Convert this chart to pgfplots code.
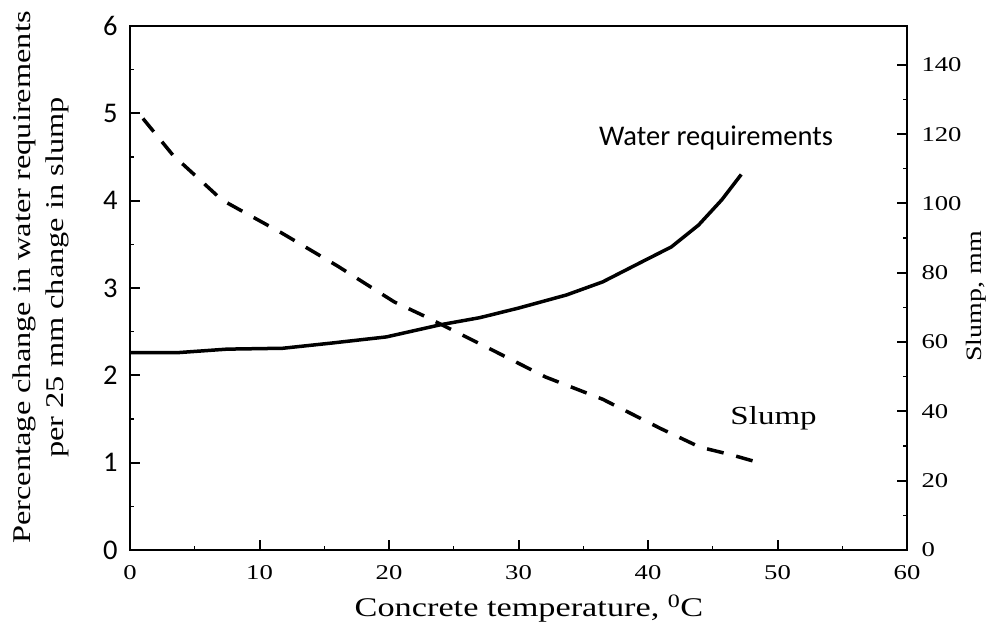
\documentclass[border=0pt]{standalone}
\usepackage{fontspec}
\setmainfont{Liberation Serif}
\newfontfamily\wideserif[FakeStretch=1.27]{Liberation Serif}
\newfontfamily\calibri{Carlito}
\usepackage{pgfplots}
\pgfplotsset{compat=1.18}
\begin{document}
\begin{tikzpicture}
\path[use as bounding box] (-130bp,-87bp) rectangle (866bp,550bp);
\begin{axis}[
  at={(0,0)}, anchor=south west,
  scale only axis, width=777bp, height=524bp,
  xmin=0, xmax=60, ymin=0, ymax=6,
  xtick={0,10,...,60}, minor xtick={5,15,...,55},
  ytick={0,1,...,6}, minor ytick={0.5,1.5,...,5.5},
  xtick pos=left, ytick pos=left,
  tick align=inside,
  major tick length=10bp, minor tick length=4bp,
  every major tick/.style={black, line width=2bp},
  every minor tick/.style={black, line width=1.2bp},
  axis line style={line width=2.5bp, black},
  /pgf/number format/assume math mode=true,
  xticklabel style={font=\wideserif\fontsize{21bp}{25bp}\selectfont, yshift=-12bp},
  yticklabel style={font=\calibri\fontsize{28.5bp}{32bp}\selectfont, xshift=-9bp},
  xlabel={Concrete temperature, \textsuperscript{0}C},
  xlabel style={font=\wideserif\fontsize{27bp}{33bp}\selectfont, at={(axis description cs:0.5135,-0.1126)}, anchor=center},
  ylabel={Percentage change in water requirements\\per 25 mm change in slump},
  ylabel style={align=center, font=\wideserif\fontsize{25.5bp}{33bp}\selectfont, at={(axis description cs:-0.1152,0.52)}, anchor=center},
]
\addplot[black, line width=3.5bp, line join=round] coordinates {
(0,2.26) (3.7,2.26) (7.5,2.30) (11.8,2.31) (15.6,2.37) (19.8,2.44)
(24.0,2.58) (27.0,2.66) (30.0,2.77) (33.7,2.92) (36.5,3.07) (39.8,3.32)
(41.8,3.47) (43.9,3.72) (45.7,4.01) (47.2,4.30)};
\node[font=\calibri\fontsize{28.5bp}{32bp}\selectfont] at (axis cs:45.25,4.72) {Water requirements};
\node[font=\wideserif\fontsize{26bp}{30bp}\selectfont] at (axis cs:49.7,1.51) {Slump};
\end{axis}
\begin{axis}[
  at={(0,0)}, anchor=south west,
  scale only axis, width=777bp, height=524bp,
  xmin=0, xmax=60, ymin=0, ymax=151.2,
  axis y line*=right, axis x line=none,
  ytick={0,20,...,140}, minor ytick={10,30,...,130},
  tick align=inside,
  major tick length=10bp, minor tick length=4bp,
  every major tick/.style={black, line width=2bp},
  every minor tick/.style={black, line width=1.2bp},
  axis line style={line width=2.5bp, black},
  /pgf/number format/assume math mode=true,
  yticklabel style={font=\wideserif\fontsize{21bp}{25bp}\selectfont, anchor=west, xshift=11bp},
  ylabel={Slump, mm},
  ylabel style={font=\wideserif\fontsize{22bp}{26bp}\selectfont, at={(axis description cs:1.089,0.484)}, anchor=center},
]
\addplot[black, line width=3.5bp, dash pattern=on 17bp off 13bp] coordinates {
(1.0,124.5) (3.3,114) (7.1,101) (11.7,91.5) (16.0,82) (20.4,71.6)
(22.9,67.2) (27.5,58.6) (32.1,49.9) (36.5,43.5) (41.0,35) (44.0,29.7)
(46.5,27.4) (48.1,25.7)};
\end{axis}
\end{tikzpicture}
\end{document}
